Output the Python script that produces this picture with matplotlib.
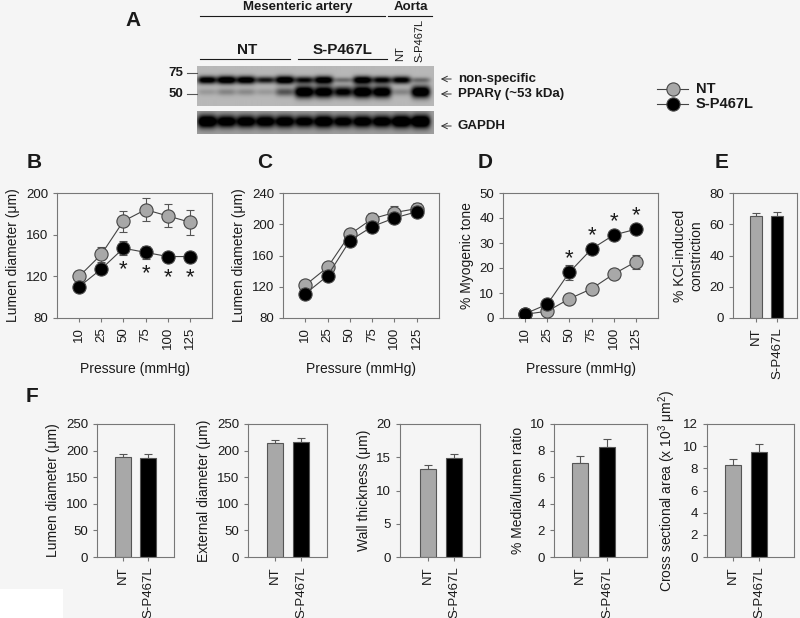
import numpy as np
import matplotlib
matplotlib.use('Agg')
import matplotlib.pyplot as plt

plt.rcParams['font.family'] = ['Liberation Sans', 'DejaVu Sans']
plt.rcParams['mathtext.fontset'] = 'custom'
plt.rcParams['mathtext.rm'] = 'Liberation Sans'

W, H = 800, 618
BG = '#f5f5f5'
GRAY = '#a8a8a8'
EDGE = '#444444'
SPINE = '#777777'
TXT = '#1a1a1a'

pressure = ['10', '25', '50', '75', '100', '125']
groups = ['NT', 'S-P467L']

# B - lumen diameter (active)
b_nt = [120, 141, 173, 184, 178, 172]
b_nt_err = [5, 7, 10, 11, 11, 12]
b_sp = [110, 127, 147, 143, 139, 139]
b_sp_err = [3, 3, 7, 6, 3, 3]
b_sig = [False, False, True, True, True, True]

# C - lumen diameter (passive)
c_nt = [122, 145, 187, 207, 215, 220]
c_nt_err = [3, 3, 4, 7, 8, 7]
c_sp = [111, 134, 179, 197, 208, 216]
c_sp_err = [2, 3, 4, 3, 3, 3]

# D - myogenic tone
d_nt = [1.5, 2.7, 7.7, 11.7, 17.6, 22.5]
d_nt_err = [0.5, 0.8, 1.2, 2.0, 2.0, 2.8]
d_sp = [1.7, 5.5, 18.3, 27.6, 33.2, 35.5]
d_sp_err = [0.5, 1.0, 3.0, 1.5, 1.2, 1.2]
d_sig = [False, False, True, True, True, True]

# E - KCl constriction
e_vals = [65.5, 65.3]
e_err = [2.0, 2.5]

# F - structural parameters
f_lumen = [188, 186]
f_lumen_err = [6, 7]
f_ext = [214, 216]
f_ext_err = [6, 7]
f_wall = [13.2, 14.9]
f_wall_err = [0.6, 0.6]
f_ml = [7.07, 8.25]
f_ml_err = [0.5, 0.65]
f_csa = [8.33, 9.47]
f_csa_err = [0.55, 0.7]

# A - western blot band intensities (12 lanes)
blot_nonspec = [0.85, 0.95, 0.9, 0.65, 0.95, 0.7, 0.9, 0.3, 0.9, 0.75, 0.8, 0.3]
blot_ppar = [0.12, 0.2, 0.18, 0.12, 0.4, 1.0, 0.95, 0.8, 1.0, 0.95, 0.2, 1.0]
blot_gapdh = [0.95, 0.85, 0.85, 0.85, 0.85, 0.8, 0.9, 0.8, 0.85, 0.85, 0.95, 1.0]


fig = plt.figure(figsize=(W / 100, H / 100), dpi=100, facecolor=BG)


def px_axes(l, t, r, b):
    return fig.add_axes([l / W, 1 - b / H, (r - l) / W, (b - t) / H])


def style(ax):
    ax.set_facecolor('none')
    for s in ax.spines.values():
        s.set_color(SPINE)
        s.set_linewidth(0.8)
    ax.tick_params(colors=SPINE, labelcolor=TXT, labelsize=9.5, length=3, width=0.8)


# overlay for panel A, legend and letters
ov = fig.add_axes([0, 0, 1, 1])
ov.set_xlim(0, W)
ov.set_ylim(H, 0)
ov.axis('off')
ov.add_patch(plt.Rectangle((0, 589), 63, 29, color='white', lw=0))


def blot(vals_list, ys, widths, top, bot, bg):
    xs = np.linspace(197, 434, 480)
    yy = np.linspace(top, bot, 120)
    X, Y = np.meshgrid(xs, yy)
    dark = np.zeros_like(X)
    centers = np.linspace(207, 421, 12)
    for vals, cy, sy in zip(vals_list, ys, widths):
        for cx, v in zip(centers, vals):
            sy_v = sy * (0.6 + 0.6 * v)
            dark += v * np.exp(-((X - cx) / 9.5) ** 4) * np.exp(-((Y - cy) / sy_v) ** 2)
    img = np.clip(bg - dark, 0, 1)
    ov.imshow(img, cmap='gray', vmin=0, vmax=1, extent=(197, 434, bot, top),
              aspect='auto', interpolation='bilinear', zorder=1)


blot([blot_nonspec, blot_ppar], [80, 92], [3.5, 5.0], 66, 106, 0.72)
blot([blot_gapdh], [121.5], [5.5], 111, 134, 0.62)
ov.set_xlim(0, W)
ov.set_ylim(H, 0)

# panel A labels
ov.text(298, 7, 'Mesenteric artery', ha='center', va='center', fontsize=9.5, fontweight='bold', color=TXT)
ov.plot([200, 385], [16, 16], color=TXT, lw=0.8)
ov.text(411, 7, 'Aorta', ha='center', va='center', fontsize=9.5, fontweight='bold', color=TXT)
ov.plot([388, 432], [16, 16], color=TXT, lw=0.8)
ov.text(247, 50, 'NT', ha='center', va='center', fontsize=11, fontweight='bold', color=TXT)
ov.plot([200, 290], [59, 59], color=TXT, lw=0.8)
ov.text(343, 50, 'S-P467L', ha='center', va='center', fontsize=11, fontweight='bold', color=TXT)
ov.plot([298, 387], [59, 59], color=TXT, lw=0.8)
ov.text(400, 61, 'NT', ha='center', va='bottom', rotation=90, fontsize=8, color=TXT)
ov.text(419, 62, 'S-P467L', ha='center', va='bottom', rotation=90, fontsize=8, color=TXT)
for lab, y in [('75', 73), ('50', 94)]:
    ov.text(183, y, lab, ha='right', va='center', fontsize=9.5, fontweight='bold', color=TXT)
    ov.plot([187, 197], [y, y], color='#555', lw=0.8)
for lab, y in [('non-specific', 79), ('PPAR\u03b3 (~53 kDa)', 94), ('GAPDH', 126)]:
    ov.annotate('', xy=(438, y), xytext=(454, y),
                arrowprops=dict(arrowstyle='->', color='#333', lw=0.7))
    ov.text(458, y, lab, ha='left', va='center', fontsize=9.5, fontweight='bold', color=TXT)

# legend
for y, fc in [(89, GRAY), (104, 'black')]:
    ov.plot([657, 688], [y, y], color=EDGE, lw=0.8)
    ov.plot([673], [y], 'o', ms=9.5, mfc=fc, mec=EDGE, mew=0.8)
ov.text(696, 89, 'NT', ha='left', va='center', fontsize=10.5, fontweight='bold', color=TXT)
ov.text(696, 104, 'S-P467L', ha='left', va='center', fontsize=10.5, fontweight='bold', color=TXT)

# panel letters
for lab, x, y in [('A', 133, 20), ('B', 34, 163), ('C', 265, 163), ('D', 485, 163),
                  ('E', 722, 163), ('F', 32, 397)]:
    ov.text(x, y, lab, ha='center', va='center', fontsize=15, fontweight='bold', color=TXT)


def line_panel(ax, nt, nt_err, sp, sp_err, ylim, yticks, ylabel):
    x = np.arange(1, 7)
    for vals, err, fc in [(nt, nt_err, GRAY), (sp, sp_err, 'black')]:
        ax.errorbar(x, vals, yerr=err, fmt='none', ecolor='#555', elinewidth=0.8,
                    capsize=3, capthick=0.8, zorder=2)
        ax.plot(x, vals, '-o', color=EDGE, lw=0.8, mfc=fc, mec=EDGE, mew=0.8,
                ms=9.5, zorder=3)
    ax.set_xlim(0, 7)
    ax.set_ylim(*ylim)
    ax.set_yticks(yticks)
    ax.set_xticks(x)
    ax.set_xticklabels(pressure, rotation=90)
    ax.set_ylabel(ylabel, fontsize=10, color=TXT)
    ax.set_xlabel('Pressure (mmHg)', fontsize=10, color=TXT, labelpad=9)
    style(ax)


axB = px_axes(57, 193, 212, 318)
line_panel(axB, b_nt, b_nt_err, b_sp, b_sp_err, (80, 200), [80, 120, 160, 200],
           'Lumen diameter (\u03bcm)')
for i, s in enumerate(b_sig):
    if s:
        axB.annotate('*', (i + 1, b_sp[i]), xytext=(0, -23), textcoords='offset points',
                     ha='center', va='bottom', fontsize=16, color=TXT)

axC = px_axes(283, 193, 439, 318)
line_panel(axC, c_nt, c_nt_err, c_sp, c_sp_err, (80, 240), [80, 120, 160, 200, 240],
           'Lumen diameter (\u03bcm)')

axD = px_axes(503, 193, 658, 318)
line_panel(axD, d_nt, d_nt_err, d_sp, d_sp_err, (0, 50), [0, 10, 20, 30, 40, 50],
           '% Myogenic tone')
for i, s in enumerate(d_sig):
    if s:
        axD.annotate('*', (i + 1, d_sp[i]), xytext=(0, 2), textcoords='offset points',
                     ha='center', va='bottom', fontsize=16, color=TXT)


def bar_panel(px, vals, err, ylim, yticks, ylabel, bw_px=16):
    l, t, r, b, c1, c2 = px
    ax = px_axes(l, t, r, b)
    d = c2 - c1
    x = np.array([1, 2])
    ax.bar(x, vals, width=bw_px / d, color=[GRAY, 'black'], edgecolor='#555', lw=0.8, zorder=2)
    ax.errorbar(x, vals, yerr=[[0, 0], err], fmt='none', ecolor='#555', elinewidth=0.8,
                capsize=3, capthick=0.8, zorder=1)
    ax.set_xlim(1 - (c1 - l) / d, 1 + (r - c1) / d)
    ax.set_ylim(*ylim)
    ax.set_yticks(yticks)
    ax.set_xticks(x)
    ax.set_xticklabels(groups, rotation=90)
    ax.set_ylabel(ylabel, fontsize=10, color=TXT)
    style(ax)
    return ax


bar_panel((733, 193, 797, 318, 756, 777), e_vals, e_err, (0, 80), [0, 20, 40, 60, 80],
          '% KCl-induced\nconstriction', bw_px=12)

bar_panel((97, 424, 174, 557, 123, 148), f_lumen, f_lumen_err, (0, 250),
          [0, 50, 100, 150, 200, 250], 'Lumen diameter (\u03bcm)')
bar_panel((248, 424, 327, 557, 275, 301), f_ext, f_ext_err, (0, 250),
          [0, 50, 100, 150, 200, 250], 'External diameter (\u03bcm)')
bar_panel((400, 424, 480, 557, 428, 454), f_wall, f_wall_err, (0, 20),
          [0, 5, 10, 15, 20], 'Wall thickness (\u03bcm)')
bar_panel((554, 424, 647, 557, 580, 607), f_ml, f_ml_err, (0, 10),
          [0, 2, 4, 6, 8, 10], '% Media/lumen ratio')
bar_panel((707, 424, 794, 557, 733, 759), f_csa, f_csa_err, (0, 12),
          [0, 2, 4, 6, 8, 10, 12], 'Cross sectional area (x 10$^3$ \u03bcm$^2$)')

fig.savefig('out.png', dpi=100, facecolor=BG)
